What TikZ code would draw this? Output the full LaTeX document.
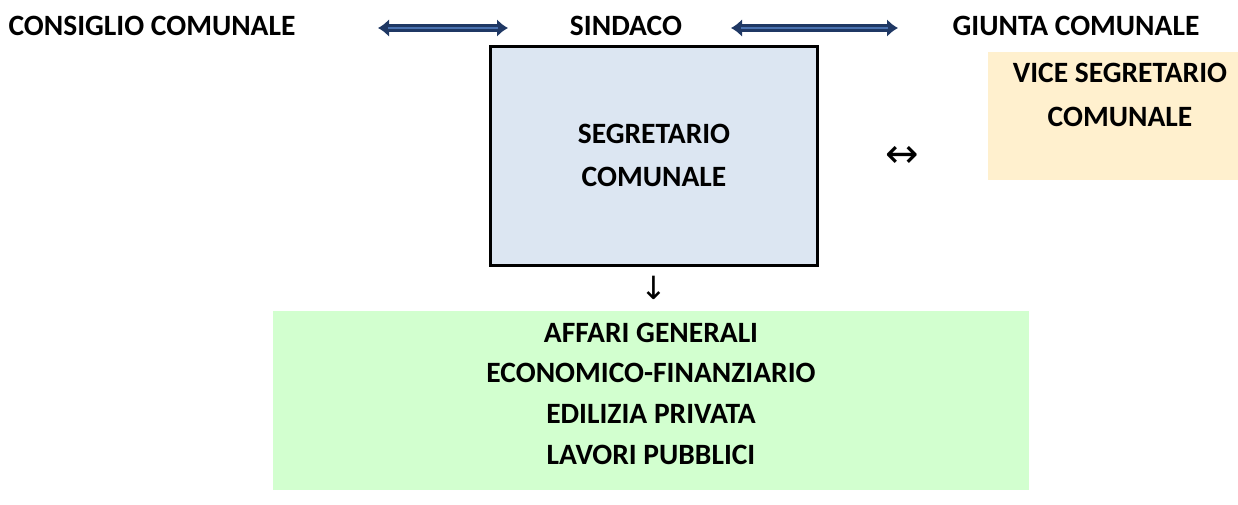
\documentclass[tikz,border=0pt]{standalone}
\usepackage{fontspec}
\setmainfont{Carlito}
\newfontfamily\symfont{DejaVu Sans}
\usetikzlibrary{arrows.meta}
\definecolor{navy}{HTML}{1F3864}
\definecolor{midblue}{HTML}{4A72B0}
\definecolor{segfill}{HTML}{DCE6F2}
\definecolor{vicefill}{HTML}{FFF0CE}
\definecolor{greenfill}{HTML}{D2FFCF}
\tikzset{
  lbl/.style={font=\bfseries\fontsize{29.5}{34}\selectfont, inner sep=0pt, align=center},
  blockarrow/.style={line width=8pt, draw=navy, {Latex[length=11pt,width=18pt]}-{Latex[length=11pt,width=18pt]}},
  blockcore/.style={line width=2.2pt, draw=midblue, shorten <=10pt, shorten >=10pt},
  glyph/.style={font=\symfont\fontsize{40}{44}\selectfont, inner sep=0pt}
}
\begin{document}
\begin{tikzpicture}[x=1pt,y=-1pt]
\useasboundingbox (0,0) rectangle (1238,504);
% header labels
\node[lbl] (consiglio) at (152,26) {CONSIGLIO COMUNALE};
\node[lbl] (sindaco) at (626,26) {SINDACO};
\node[lbl] (giunta) at (1076,26) {GIUNTA COMUNALE};
% block arrows
\coordinate (a1s) at (378,28);
\coordinate (a1e) at (508,28);
\coordinate (a2s) at (731,28);
\coordinate (a2e) at (898,28);
\draw[blockarrow] (a1s) -- (a1e);
\draw[blockcore] (a1s) -- (a1e);
\draw[blockarrow] (a2s) -- (a2e);
\draw[blockcore] (a2s) -- (a2e);
% segretario
\node[draw=black, line width=3pt, fill=segfill, minimum width=327pt, minimum height=219pt, inner sep=0pt] (seg) at (654,156) {};
\node[lbl] (segtxt1) at (654,134) {SEGRETARIO};
\node[lbl] (segtxt2) at (654,177) {COMUNALE};
% vice segretario
\node[fill=vicefill, minimum width=250pt, minimum height=128pt, inner sep=0pt] (vice) at (1113,116) {};
\node[lbl] (vicetxt1) at (1120,73) {VICE SEGRETARIO};
\node[lbl] (vicetxt2) at (1120,117) {COMUNALE};
% glyph arrows
\node[glyph] (lr) at (902,157) {↔};
\node[glyph, font=\symfont\fontsize{32}{36}\selectfont] (dn) at (654,288) {↓};
% green box
\node[fill=greenfill, minimum width=756pt, minimum height=179pt, inner sep=0pt] (green) at (651,400.5) {};
\node[lbl] (g1) at (651,333) {AFFARI GENERALI};
\node[lbl] (g2) at (651,373) {ECONOMICO-FINANZIARIO};
\node[lbl] (g3) at (651,414) {EDILIZIA PRIVATA};
\node[lbl] (g4) at (651,455) {LAVORI PUBBLICI};
\end{tikzpicture}
\end{document}
